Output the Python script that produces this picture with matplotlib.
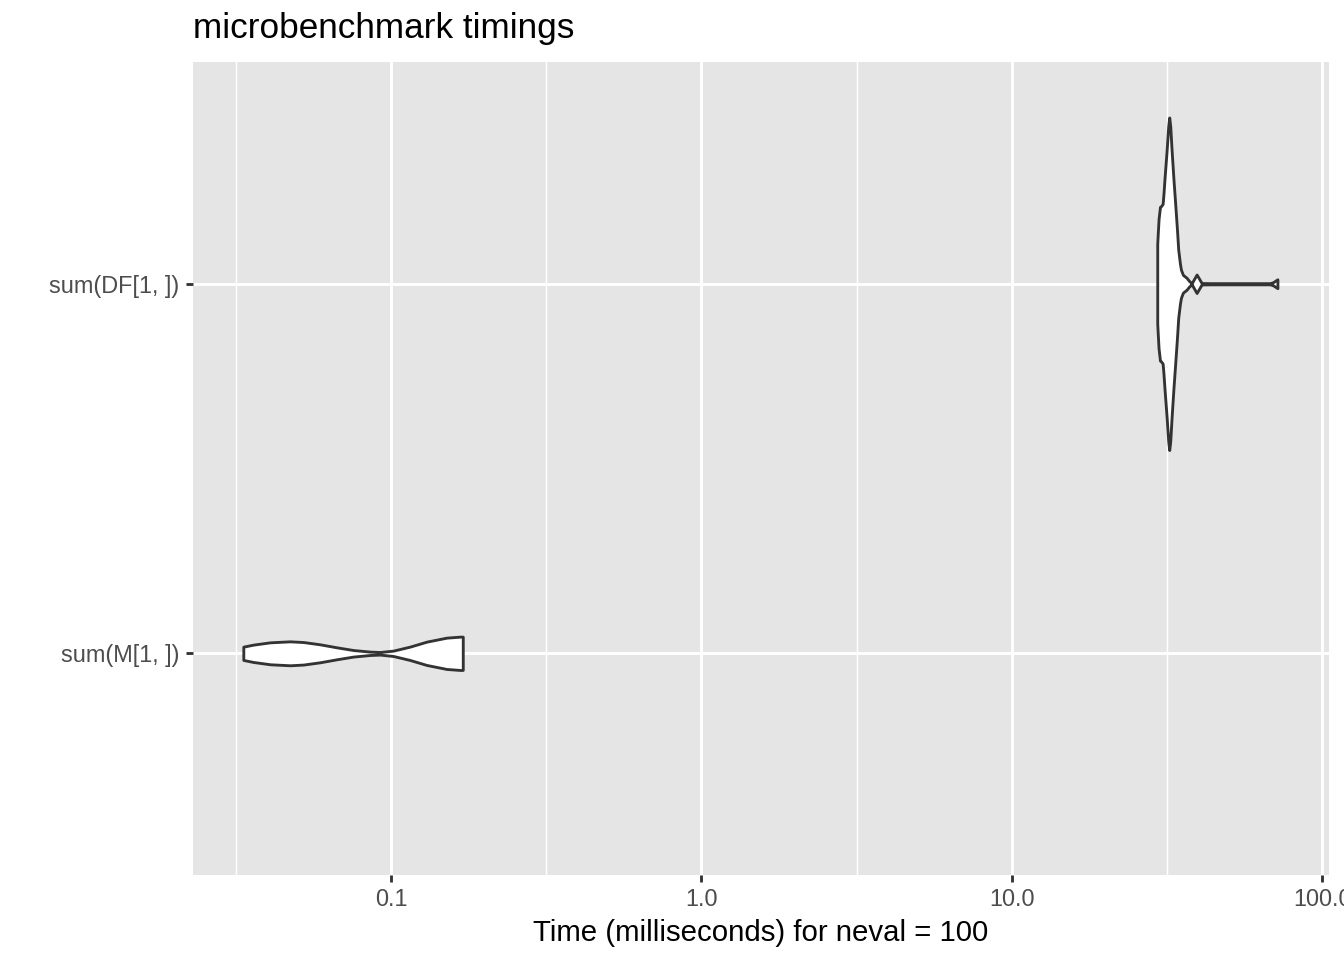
import numpy as np
import matplotlib
matplotlib.use('Agg')
import matplotlib.pyplot as plt

# categories on the y axis (bottom to top)
categories = ['sum(M[1, ])', 'sum(DF[1, ])']

# violin outline for sum(M[1, ]): time (ms) and half width (category units)
m_time = [0.03343, 0.03601, 0.04077, 0.04727, 0.05218, 0.05906, 0.06683, 0.07556,
          0.08555, 0.09216, 0.1017, 0.1151, 0.1303, 0.1511, 0.1669, 0.1703]
m_half = [0.018, 0.0235, 0.0297, 0.0324, 0.0305, 0.0243, 0.0162, 0.0089,
          0.0046, 0.0035, 0.0073, 0.0181, 0.0316, 0.0424, 0.0451, 0.0451]

# violin outline for sum(DF[1, ])
df_time = [29.43, 29.54, 29.72, 30.03, 30.26, 30.63, 30.82, 31.05, 31.55, 31.93,
           32.17, 32.41, 32.74, 33.19, 33.56, 34.06, 34.39, 34.83, 35.09, 35.61,
           36.60, 37.23, 37.98, 39.41, 40.90, 43.50, 67.89, 69.42, 71.78]
df_half = [0.108, 0.135, 0.175, 0.208, 0.210, 0.216, 0.243, 0.283, 0.361, 0.426,
           0.450, 0.426, 0.361, 0.283, 0.226, 0.148, 0.092, 0.054, 0.038, 0.024,
           0.016, 0.008, 0.0013, 0.025, 0.002, 0.0016, 0.0016, 0.004, 0.012]

xticks = [0.1, 1.0, 10.0, 100.0]
xtick_labels = ['0.1', '1.0', '10.0', '100.0']
xminor = [10**-1.5, 10**-0.5, 10**0.5, 10**1.5]

plt.rcParams['font.family'] = ['Liberation Sans', 'DejaVu Sans']

fig = plt.figure(figsize=(7, 5), dpi=192)
ax = fig.add_axes([0.1434, 0.0885, 0.8454, 0.8469])
ax.set_facecolor('#E5E5E5')
for s in ax.spines.values():
	s.set_visible(False)

ax.set_xscale('log')
ax.set_xlim(0.02297, 105.2)
ax.set_ylim(0.4, 2.6)

# grid
for v in xminor:
	ax.axvline(v, color='white', lw=0.55, zorder=0.5)
for v in xticks:
	ax.axvline(v, color='white', lw=1.07, zorder=0.6)
for v in [1, 2]:
	ax.axhline(v, color='white', lw=1.07, zorder=0.6)

# violins
for pos, t, w in [(1, m_time, m_half), (2, df_time, df_half)]:
	t = np.array(t)
	w = np.array(w)
	ax.fill_between(t, pos - w, pos + w, facecolor='white', edgecolor='#333333',
									lw=1.07, zorder=2)

ax.set_xticks(xticks)
ax.set_xticklabels(xtick_labels)
ax.xaxis.set_minor_locator(matplotlib.ticker.NullLocator())
ax.set_yticks([1, 2])
ax.set_yticklabels(categories)
ax.tick_params(axis='both', length=2.75, width=1.07, color='#333333',
							 labelcolor='#4D4D4D', labelsize=8.8, pad=2.2)

ax.set_xlabel('Time (milliseconds) for neval = 100', fontsize=11, color='black', labelpad=2.75)
fig.text(0.1434, 1 - 38/960, 'microbenchmark timings', fontsize=13.2, color='black',
				 ha='left', va='baseline')

fig.savefig('out.png', dpi=192)
